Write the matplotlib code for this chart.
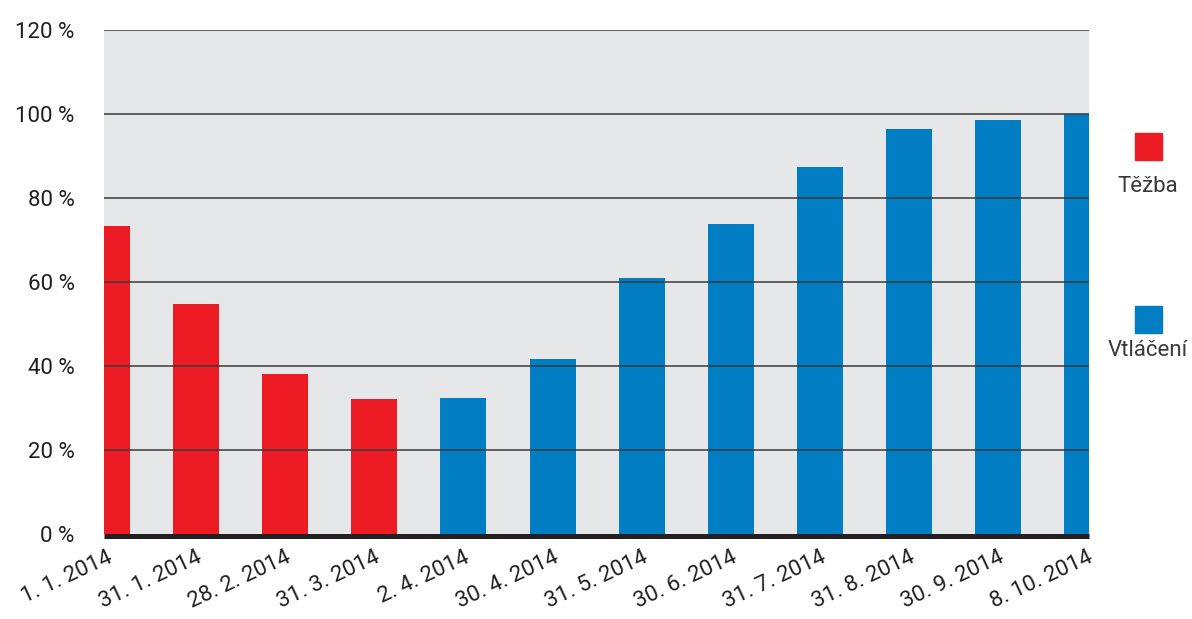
import matplotlib.pyplot as plt
from matplotlib.patches import Rectangle

dates = ["1. 1. 2014", "31. 1. 2014", "28. 2. 2014", "31. 3. 2014", "2. 4. 2014",
         "30. 4. 2014", "31. 5. 2014", "30. 6. 2014", "31. 7. 2014", "31. 8. 2014",
         "30. 9. 2014", "8. 10. 2014"]
values = [73.3, 54.8, 37.9, 32.0, 32.2, 41.7, 60.9, 73.7, 87.3, 96.3, 98.5, 100.0]
phase = ["Těžba"] * 4 + ["Vtláčení"] * 8

colors = {"Těžba": "#ED1C24", "Vtláčení": "#007DC3"}
yticks = [0, 20, 40, 60, 80, 100, 120]
text_col = "#231F20"

plt.rcParams['font.family'] = ['Roboto', 'DejaVu Sans']

fig = plt.figure(figsize=(11.92, 6.19), dpi=100)
ax = fig.add_axes([0.0872, 0.1381, 0.8264, 0.8134])
ax.set_facecolor("#E6E7E9")

# spine position first: it resets tick settings
for s in ["top", "left", "right"]:
    ax.spines[s].set_visible(False)
ax.spines["bottom"].set_position(("outward", 1.8))
ax.spines["bottom"].set_color(text_col)
ax.spines["bottom"].set_linewidth(3.6)
ax.spines["bottom"].set_capstyle("butt")

x = list(range(len(dates)))
ax.bar(x, values, width=0.516, color=[colors[p] for p in phase], zorder=2)

for t in yticks[1:]:
    ax.axhline(t, color="#3A3A3A", lw=1.1, zorder=3)

ax.set_xlim(-0.034, 11.02)
ax.set_ylim(0, 120)
ax.set_yticks(yticks)
ax.set_yticklabels([f"{t} %" for t in yticks], fontsize=16, color=text_col)
ax.set_xticks(x)
ax.set_xticklabels(dates, rotation=25, ha="right", rotation_mode="anchor",
                   fontsize=16, color=text_col)
ax.tick_params(axis="y", length=0, pad=21)
ax.tick_params(axis="x", length=0, pad=8)

# legend drawn at the right side
W, H = 1192, 619
for label, ytop, ytxt in [("Těžba", 133, 187), ("Vtláčení", 306, 350)]:
    fig.patches.append(Rectangle((1135 / W, 1 - (ytop + 27) / H), 27 / W, 27 / H,
                                 transform=fig.transFigure, color=colors[label]))
    fig.text(1148 / W, 1 - ytxt / H, label, ha="center", va="center",
             fontsize=16, color="#3A3A3A")

fig.savefig("out.png", dpi=100)
